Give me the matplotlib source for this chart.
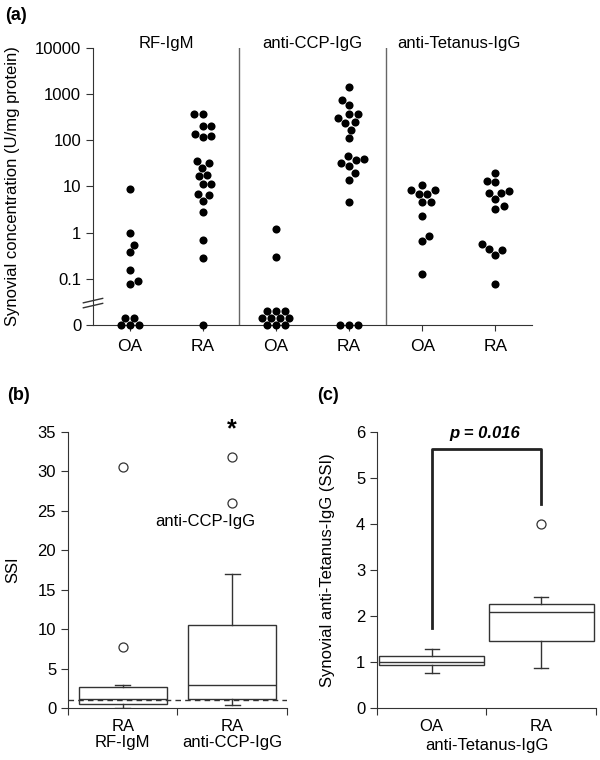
import matplotlib.pyplot as plt
import numpy as np

plt.rcParams['font.family'] = ['Liberation Sans', 'DejaVu Sans']
plt.rcParams['font.size'] = 12

# ---- panel (a): synovial concentration, U/mg protein (0 = not detected)
groups_a = ['OA', 'RA', 'OA', 'RA', 'OA', 'RA']
antibodies = ['RF-IgM', 'anti-CCP-IgG', 'anti-Tetanus-IgG']
rf_oa = [8.8, 0.98, 0.55, 0.38, 0.157, 0.088, 0.078, 0, 0, 0, 0, 0]
rf_ra = [380, 380, 200, 200, 137, 118, 126, 36, 31.6, 25, 16.5, 18,
         11.3, 11.3, 7.0, 6.6, 4.9, 2.8, 0.70, 0.28, 0]
ccp_oa = [1.21, 0.29, 0, 0, 0, 0, 0, 0, 0, 0, 0, 0]
ccp_ra = [1400, 760, 590, 378, 372, 304, 245, 237, 170, 112,
          32, 39, 45, 37, 28, 19.5, 14, 4.5, 0, 0, 0]
tet_oa = [10.9, 7.0, 8.2, 8.4, 6.8, 4.6, 4.6, 2.25, 0.83, 0.65, 0.128]
tet_ra = [20, 12.2, 13.3, 7.8, 7.4, 7.2, 5.3, 3.3, 3.7,
          0.56, 0.43, 0.33, 0.44, 0.078]
series_a = [rf_oa, rf_ra, ccp_oa, ccp_ra, tet_oa, tet_ra]
yticks_a = [0.01, 0.1, 1, 10, 100, 1000, 10000]
ylabels_a = ['0', '0.1', '1', '10', '100', '1000', '10000']
ZERO = 0.01  # where "0" sits on the log axis

# ---- panel (b): SSI box plots (summary values)
labels_b = ['RA\nRF-IgM', 'RA\nanti-CCP-IgG']
q1_b = [0.55, 1.1]
med_b = [1.2, 2.95]
q3_b = [2.66, 10.5]
lo_b = [0.0, 0.35]
hi_b = [2.95, 17.0]
fliers_b = [[30.6, 7.8], [31.8, 26.0]]

# ---- panel (c): anti-Tetanus-IgG SSI
labels_c = ['OA', 'RA']
q1_c = [0.94, 1.45]
med_c = [0.99, 2.08]
q3_c = [1.12, 2.26]
lo_c = [0.76, 0.87]
hi_c = [1.28, 2.41]
fliers_c = [[], [4.0]]
bracket_c = [1.75, 5.64, 4.43]   # left leg end, top, right leg end

dark = '#333333'


def swarm(ax, xc, vals, d=8.5, sx=9.0, sy=7.0):
    # lay dots side by side in pixel space so they don't overlap
    T = ax.transData
    pxx = T.transform((1, 1))[0] - T.transform((0, 1))[0]
    xs, ys = [], []
    nz = sum(1 for v in vals if v == 0)
    base = T.transform((xc, ZERO))[1]
    row, k = 0, 0
    while k < nz:  # zeros piled in staggered rows
        n = min(3 if row % 2 == 0 else 4, nz - k)
        for j in range(n):
            xs.append(xc + (j - (n - 1) / 2) * sx / pxx)
            ys.append(T.inverted().transform((0, base + row * sy))[1])
        k += n
        row += 1
    done = []

    def free(dx, py):
        return all((dx - a) ** 2 + (py - b) ** 2 >= d * d for a, b in done)

    for v in sorted(v for v in vals if v > 0):
        py = T.transform((xc, v))[1]
        for i in range(200):
            dx = i * 0.5
            right, left = free(dx, py), free(-dx, py)
            if right or left:
                if right and left:
                    nr = sum(1 for a, b in done if a > 0 and abs(b - py) < 2 * d)
                    nl = sum(1 for a, b in done if a < 0 and abs(b - py) < 2 * d)
                    dx = dx if nr <= nl else -dx
                elif left:
                    dx = -dx
                break
        done.append((dx, py))
        xs.append(xc + dx / pxx)
        ys.append(v)
    return xs, ys


def style(ax):
    for s in ['top', 'right']:
        ax.spines[s].set_visible(False)
    for s in ['left', 'bottom']:
        ax.spines[s].set_color(dark)
    ax.tick_params(colors=dark, labelcolor='black', length=5)


fig = plt.figure(figsize=(6, 7.6), dpi=100)

# ---------------- (a)
ax = fig.add_axes([0.155, 0.5724, 0.7317, 0.3645])
ax.set_yscale('log')
ax.set_ylim(ZERO, 10000)
ax.set_xlim(-0.5, 5.5)
style(ax)
ax.set_yticks(yticks_a)
ax.set_yticklabels(ylabels_a)
ax.minorticks_off()
ax.set_xticks(range(len(groups_a)))
ax.set_xticklabels(groups_a, fontsize=12.5)
ax.tick_params(axis='x', length=4, pad=6)
for i, vals in enumerate(series_a):
    xs, ys = swarm(ax, i, vals)
    ax.scatter(xs, ys, s=34, color='black', zorder=3, clip_on=False,
               linewidths=0)
for xv in [1.5, 3.5]:
    ax.axvline(xv, color='#666666', lw=1)
for i, name in enumerate(antibodies):
    ax.text(2 * i + 0.5, 10000, name, ha='center', va='baseline',
            fontsize=12)
# axis break marks
for dy in [-0.009, 0.009]:
    ax.plot([-0.022, 0.022], [0.071 + dy, 0.087 + dy], color=dark, lw=1,
            transform=ax.transAxes, clip_on=False)
ax.set_ylabel('Synovial concentration (U/mg protein)', fontsize=12)
ax.yaxis.set_label_coords(-0.166, 0.5)

# ---------------- (b)
ax = fig.add_axes([0.1133, 0.0684, 0.365, 0.3632])
style(ax)
stats = [dict(q1=q1_b[i], med=med_b[i], q3=q3_b[i], whislo=lo_b[i],
              whishi=hi_b[i], fliers=fliers_b[i]) for i in range(2)]
box_kw = dict(patch_artist=True, widths=0.8, capwidths=0.14,
              boxprops=dict(facecolor='white', edgecolor=dark, lw=1),
              medianprops=dict(color=dark, lw=1),
              whiskerprops=dict(color=dark, lw=1),
              capprops=dict(color=dark, lw=1),
              flierprops=dict(marker='o', mfc='white', mec=dark, ms=6.5,
                              mew=0.9))
ax.bxp(stats, positions=[0, 1], **box_kw)
ax.axhline(1, color=dark, lw=1, ls=(0, (4, 3)), zorder=3)
ax.set_xlim(-0.5, 1.5)
ax.set_ylim(0, 35)
ax.set_yticks(range(0, 36, 5))
ax.set_xticks([-0.5, 0.5, 1.5])
ax.set_xticklabels([])
ax.set_xticks([0, 1], minor=True)
ax.set_xticklabels(labels_b, minor=True, linespacing=1.05)
ax.tick_params(axis='x', which='minor', length=0, pad=8)
ax.text(0.75, 23.7, 'anti-CCP-IgG', ha='center', va='center', fontsize=12)
ax.text(1, 35.4, '*', ha='center', va='center', fontsize=18,
        fontweight='bold', clip_on=False)
ax.set_ylabel('SSI', fontsize=12)
ax.yaxis.set_label_coords(-0.219, 0.5)

# ---------------- (c)
ax = fig.add_axes([0.6283, 0.0684, 0.365, 0.3632])
style(ax)
stats = [dict(q1=q1_c[i], med=med_c[i], q3=q3_c[i], whislo=lo_c[i],
              whishi=hi_c[i], fliers=fliers_c[i]) for i in range(2)]
box_kw.update(widths=0.96, capwidths=0.13)
ax.bxp(stats, positions=[0, 1], **box_kw)
ax.plot([0, 0, 1, 1], [bracket_c[0], bracket_c[1], bracket_c[1], bracket_c[2]],
        color='#222222', lw=2)
ax.text(0.48, 5.97, 'p = 0.016', ha='center', va='center', fontsize=12,
        fontweight='bold', fontstyle='italic')
ax.set_xlim(-0.5, 1.5)
ax.set_ylim(0, 6)
ax.set_yticks(range(0, 7))
ax.set_xticks([-0.5, 0.5, 1.5])
ax.set_xticklabels([])
ax.set_xticks([0, 1], minor=True)
ax.set_xticklabels(labels_c, minor=True)
ax.tick_params(axis='x', which='minor', length=0, pad=8)
ax.text(0.5, -0.134, 'anti-Tetanus-IgG', ha='center', va='center',
        fontsize=12, transform=ax.get_xaxis_transform())
ax.set_ylabel('Synovial anti-Tetanus-IgG (SSI)', fontsize=12)
ax.yaxis.set_label_coords(-0.19, 0.5)

fig.text(0.008, 1 - 15 / 760, '(a)', fontsize=13, fontweight='bold',
         va='center')
fig.text(0.012, 1 - 395 / 760, '(b)', fontsize=13, fontweight='bold',
         va='center')
fig.text(0.528, 1 - 395 / 760, '(c)', fontsize=13, fontweight='bold',
         va='center')

fig.savefig('out.png', dpi=100)
